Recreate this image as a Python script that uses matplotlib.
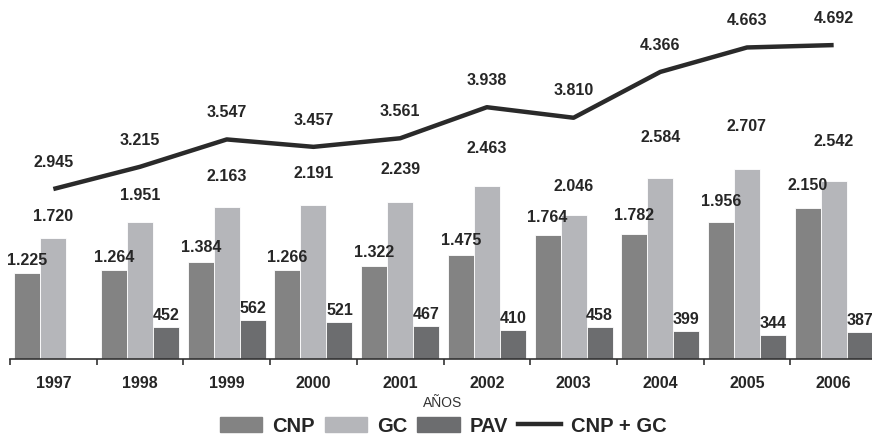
import numpy as np
import matplotlib
matplotlib.use("Agg")
import matplotlib.pyplot as plt
from matplotlib.patches import Patch
from matplotlib.lines import Line2D

plt.rcParams['font.family'] = ['Liberation Sans', 'DejaVu Sans']

# datos
years = ['1997', '1998', '1999', '2000', '2001', '2002', '2003', '2004', '2005', '2006']
cnp = [1225, 1264, 1384, 1266, 1322, 1475, 1764, 1782, 1956, 2150]
gc = [1720, 1951, 2163, 2191, 2239, 2463, 2046, 2584, 2707, 2542]
pav = [np.nan, 452, 562, 521, 467, 410, 458, 399, 344, 387]
total = [2945, 3215, 3547, 3457, 3561, 3938, 3810, 4366, 4663, 4692]

C_CNP = '#838383'
C_GC = '#b5b6ba'
C_PAV = '#6c6d6f'
C_LINE = '#2a2a2a'
C_TXT = '#262626'


def fmt(v):
    # formato con punto de miles
    return f'{int(v):,}'.replace(',', '.')


W, H = 872, 439
fig = plt.figure(figsize=(W / 100, H / 100), dpi=100)
# el eje se sale un poco por la derecha, como en el original
ax = fig.add_axes([10 / W, (H - 360) / H, 867 / W, 350 / H])
ax2 = ax.twinx()

x = np.arange(len(years))
bw = 0.3
ax.bar(x - bw, cnp, bw, color=C_CNP, edgecolor='white', linewidth=0.6)
ax.bar(x, gc, bw, color=C_GC, edgecolor='white', linewidth=0.6)
ax.bar(x + bw, pav, bw, color=C_PAV, edgecolor='white', linewidth=0.6)

ax.set_xlim(-0.5, len(years) - 0.5)
ax.set_ylim(0, 350 / 0.0702)
ax2.set_ylim(72.7 / 0.0824, (350 + 72.7) / 0.0824)

ax2.plot(x, total, color=C_LINE, lw=3.2, solid_capstyle='butt', zorder=5)

# etiquetas (el desplazamiento crece con el valor, como en el original)
lab = dict(ha='center', va='center', fontsize=11.5, fontweight='bold', color=C_TXT)
for i in range(len(years)):
    ax.annotate(fmt(cnp[i]), (x[i] - bw, cnp[i]), xytext=(0, 0.0108 * cnp[i] * 0.72),
                textcoords='offset points', **lab)
    ax.annotate(fmt(gc[i]), (x[i], gc[i]), xytext=(0, (0.0208 * gc[i] - 13) * 0.72),
                textcoords='offset points', **lab)
    if not np.isnan(pav[i]):
        ax.annotate(fmt(pav[i]), (x[i] + bw, pav[i]), xytext=(0, 9),
                    textcoords='offset points', **lab)
    ax2.annotate(fmt(total[i]), (x[i], total[i]), xytext=(0, 20),
                 textcoords='offset points', **lab)

for a in (ax, ax2):
    for s in ['top', 'right', 'left']:
        a.spines[s].set_visible(False)
ax.spines['bottom'].set_color('#333333')
ax.spines['bottom'].set_linewidth(1.2)
ax.set_yticks([])
ax2.set_yticks([])
ax2.spines['bottom'].set_visible(False)

ax.set_xticks(x)
ax.set_xticklabels(years, fontsize=11.5, fontweight='bold', color=C_TXT)
ax.tick_params(axis='x', which='major', length=0, pad=11.5)
ax.set_xticks(np.arange(-0.5, len(years)), minor=True)
ax.tick_params(axis='x', which='minor', length=4, width=1.2, color='#333333')

fig.text(443 / W, (H - 403) / H, 'AÑOS', ha='center', va='center', fontsize=10, color='#333333')

handles = [Patch(color=C_CNP), Patch(color=C_GC), Patch(color=C_PAV),
           Line2D([], [], color=C_LINE, lw=3.2)]
fig.legend(handles, ['CNP', 'GC', 'PAV', 'CNP + GC'], loc='center',
           bbox_to_anchor=(443 / W, (H - 427) / H), ncol=4, frameon=False,
           prop={'size': 14.5, 'weight': 'bold'}, handlelength=2.1,
           handletextpad=0.5, columnspacing=0.5, labelcolor=C_TXT)

fig.savefig('out.png', dpi=100)
